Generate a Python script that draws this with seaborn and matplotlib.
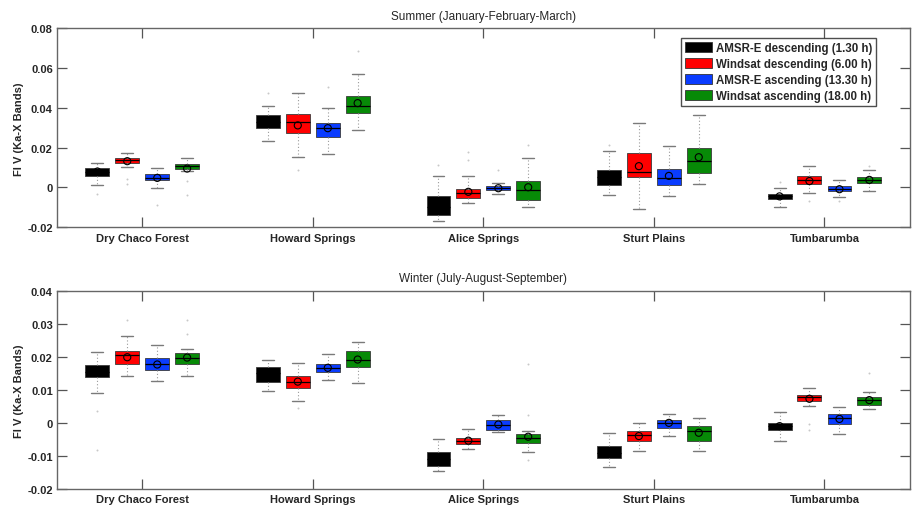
import numpy as np
import pandas as pd
import matplotlib
matplotlib.use("Agg")
import matplotlib.pyplot as plt
from matplotlib.patches import Patch
import seaborn as sns

sites = ["Dry Chaco Forest", "Howard Springs", "Alice Springs", "Sturt Plains", "Tumbarumba"]
series = ["AMSR-E descending (1.30 h)", "Windsat descending (6.00 h)",
          "AMSR-E ascending (13.30 h)", "Windsat ascending (18.00 h)"]
colors = ["#000000", "#ff0000", "#0a3cff", "#078a07"]

# Summer (JFM) box statistics: one row per series, one column per site
summer_whislo = [[0.0010, 0.0235, -0.0171, -0.0039, -0.0098],
                 [0.0104, 0.0154, -0.0076, -0.0110, -0.0029],
                 [-0.0004, 0.0166, -0.0034, -0.0044, -0.0047],
                 [0.0082, 0.0290, -0.0096, 0.0018, -0.0019]]
summer_q1 = [[0.0057, 0.0298, -0.0141, 0.0013, -0.0057],
             [0.0124, 0.0276, -0.0052, 0.0052, 0.0016],
             [0.0035, 0.0253, -0.0014, 0.0010, -0.0020],
             [0.0095, 0.0374, -0.0061, 0.0075, 0.0022]]
summer_med = [[0.0080, 0.0330, -0.0100, 0.0050, -0.0045],
              [0.0140, 0.0330, -0.0030, 0.0080, 0.0035],
              [0.0048, 0.0300, -0.0004, 0.0045, -0.0007],
              [0.0107, 0.0412, -0.0012, 0.0132, 0.0038]]
summer_q3 = [[0.0099, 0.0364, -0.0044, 0.0087, -0.0032],
             [0.0149, 0.0367, -0.0009, 0.0171, 0.0057],
             [0.0068, 0.0325, 0.0006, 0.0094, 0.0008],
             [0.0119, 0.0461, 0.0030, 0.0198, 0.0052]]
summer_whishi = [[0.0124, 0.0409, 0.0055, 0.0181, -0.0002],
                 [0.0171, 0.0476, 0.0055, 0.0323, 0.0107],
                 [0.0097, 0.0399, 0.0021, 0.0208, 0.0037],
                 [0.0147, 0.0572, 0.0146, 0.0364, 0.0087]]
summer_mean = [[0.0080, 0.0330, -0.0095, 0.0050, -0.0045],
               [0.0132, 0.0312, -0.0022, 0.0107, 0.0032],
               [0.0048, 0.0298, -0.0004, 0.0058, -0.0009],
               [0.0095, 0.0424, 0.0001, 0.0152, 0.0038]]
# (series, site, value) for isolated outlying observations
summer_outliers = [(0, 0, -0.0034), (1, 0, 0.0040), (1, 0, 0.0015), (2, 0, -0.0086),
                   (3, 0, 0.0032), (3, 0, -0.0036), (0, 1, 0.0476), (1, 1, 0.0090),
                   (2, 1, 0.0506), (3, 1, 0.0686), (0, 2, 0.0115), (1, 2, 0.0180),
                   (1, 2, 0.0140), (2, 2, 0.0090), (3, 2, 0.0214), (0, 3, 0.0214),
                   (0, 4, 0.0026), (1, 4, -0.0069), (2, 4, -0.0069), (3, 4, 0.0107)]

# Winter (JAS) box statistics
winter_whislo = [[0.0090, 0.0096, -0.0146, -0.0133, -0.0055],
                 [0.0141, 0.0067, -0.0080, -0.0085, 0.0051],
                 [0.0126, 0.0131, -0.0029, -0.0040, -0.0033],
                 [0.0143, 0.0120, -0.0087, -0.0085, 0.0041]]
winter_q1 = [[0.0138, 0.0124, -0.0130, -0.0106, -0.0023],
             [0.0178, 0.0105, -0.0065, -0.0055, 0.0067],
             [0.0161, 0.0155, -0.0021, -0.0015, -0.0002],
             [0.0178, 0.0168, -0.0060, -0.0056, 0.0054]]
winter_med = [[0.0155, 0.0150, -0.0110, -0.0090, -0.0010],
              [0.0205, 0.0125, -0.0055, -0.0038, 0.0077],
              [0.0177, 0.0167, -0.0005, 0.0000, 0.0014],
              [0.0198, 0.0192, -0.0046, -0.0025, 0.0069]]
winter_q3 = [[0.0174, 0.0168, -0.0089, -0.0070, 0.0001],
             [0.0219, 0.0141, -0.0045, -0.0025, 0.0086],
             [0.0197, 0.0180, 0.0009, 0.0009, 0.0028],
             [0.0213, 0.0218, -0.0035, -0.0010, 0.0079]]
winter_whishi = [[0.0215, 0.0190, -0.0049, -0.0030, 0.0032],
                 [0.0263, 0.0183, -0.0020, 0.0000, 0.0106],
                 [0.0236, 0.0208, 0.0023, 0.0028, 0.0049],
                 [0.0225, 0.0245, -0.0026, 0.0016, 0.0095]]
winter_mean = [[0.0155, 0.0150, -0.0110, -0.0090, -0.0010],
               [0.0199, 0.0125, -0.0054, -0.0040, 0.0073],
               [0.0177, 0.0167, -0.0005, 0.0000, 0.0012],
               [0.0198, 0.0192, -0.0042, -0.0030, 0.0069]]
winter_outliers = [(0, 0, 0.0035), (0, 0, -0.0082), (1, 0, 0.0313), (3, 0, 0.0313),
                   (3, 0, 0.0270), (1, 1, 0.0045), (3, 2, 0.0180), (3, 2, 0.0023),
                   (3, 2, -0.0114), (1, 4, -0.0003), (1, 4, -0.0023), (3, 4, 0.0152)]

panel_titles = ["Summer (January-February-March)", "Winter (July-August-September)"]
ylabel = "FI V (Ka-X Bands)"

sns.set_theme(style="white")
plt.rcParams["font.family"] = ["Liberation Sans", "DejaVu Sans"]

offsets = np.array([-0.263, -0.088, 0.088, 0.263])
box_w = 0.14


def draw_panel(ax, whislo, q1, med, q3, whishi, mean, outliers, title, ylim, yticks):
    site_idx = np.arange(1, len(sites) + 1)
    for s, col in enumerate(colors):
        stats = []
        for j in range(len(sites)):
            stats.append(dict(whislo=whislo[s][j], q1=q1[s][j], med=med[s][j],
                              q3=q3[s][j], whishi=whishi[s][j], fliers=[]))
        ax.bxp(stats, positions=site_idx + offsets[s], widths=box_w,
               patch_artist=True, showfliers=False, manage_ticks=False,
               boxprops=dict(facecolor=col, edgecolor="#3a3a3a", linewidth=0.6),
               medianprops=dict(color="#000000", linewidth=0.9),
               whiskerprops=dict(color="#9a9a9a", linestyle=(0, (1, 2)), linewidth=0.8),
               capprops=dict(color="#7a7a7a", linewidth=1.0), capwidths=box_w * 0.5)

    # mean markers
    mdf = pd.DataFrame({
        "x": np.concatenate([site_idx + offsets[s] for s in range(len(colors))]),
        "y": np.concatenate([mean[s] for s in range(len(colors))]),
    })
    sns.scatterplot(data=mdf, x="x", y="y", ax=ax, marker="o", s=26,
                    facecolor="none", edgecolor="#000000", linewidth=0.8, zorder=5)

    # outlying observations
    odf = pd.DataFrame({
        "x": [o[1] + 1 + offsets[o[0]] for o in outliers],
        "y": [o[2] for o in outliers],
    })
    sns.scatterplot(data=odf, x="x", y="y", ax=ax, marker="o", s=2,
                    color="#c8c8c8", linewidth=0, zorder=2)

    ax.set_xlim(0.5, len(sites) + 0.5)
    ax.set_ylim(*ylim)
    ax.set_xticks(site_idx)
    ax.set_xticklabels(sites, fontsize=8, fontweight="bold")
    ax.set_yticks(yticks)
    ax.set_yticklabels([("0" if abs(v) < 1e-12 else f"{v:g}") for v in yticks],
                       fontsize=8, fontweight="bold")
    ax.tick_params(axis="both", direction="in", length=7, width=0.9, color="#555555",
                   top=True, right=True, bottom=True, left=True, pad=3)
    ax.tick_params(axis="x", pad=4)
    ax.set_xlabel("")
    ax.set_ylabel(ylabel, fontsize=8, fontweight="bold", labelpad=2)
    ax.set_title(title, fontsize=8.5, pad=7)
    for sp in ax.spines.values():
        sp.set_color("#666666")
        sp.set_linewidth(1.0)


fig = plt.figure(figsize=(9.13, 5.06), dpi=100)
ax1 = fig.add_axes([0.0624, 0.549, 0.934, 0.393])
ax2 = fig.add_axes([0.0624, 0.032, 0.934, 0.391])

draw_panel(ax1, summer_whislo, summer_q1, summer_med, summer_q3, summer_whishi,
           summer_mean, summer_outliers, panel_titles[0], (-0.02, 0.08),
           [-0.02, 0.0, 0.02, 0.04, 0.06, 0.08])
draw_panel(ax2, winter_whislo, winter_q1, winter_med, winter_q3, winter_whishi,
           winter_mean, winter_outliers, panel_titles[1], (-0.02, 0.04),
           [-0.02, -0.01, 0.0, 0.01, 0.02, 0.03, 0.04])

handles = [Patch(facecolor=c, edgecolor="#333333", linewidth=0.6) for c in colors]
leg = ax1.legend(handles, series, loc="upper right", bbox_to_anchor=(0.960, 0.950),
                 prop=dict(size=8.3, weight="bold"), frameon=True, fancybox=False,
                 handlelength=2.4, handleheight=1.0, handletextpad=0.3,
                 labelspacing=0.35, borderpad=0.3, borderaxespad=0.0)
leg.get_frame().set_edgecolor("#222222")
leg.get_frame().set_linewidth(1.0)

fig.savefig("out.png", dpi=100)
